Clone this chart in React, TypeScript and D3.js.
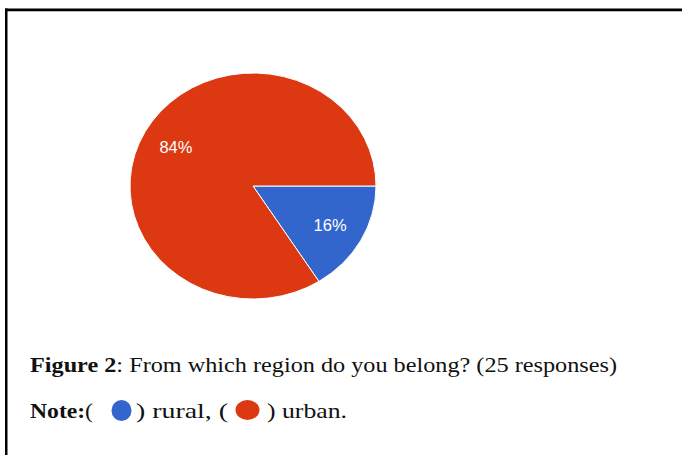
import React from "react";
import * as d3 from "d3";

const categories = ["rural", "urban"];
const values = [16, 84];
const labels = ["16%", "84%"];
const colors = ["#3366cc", "#dc3912"];
const caption = "From which region do you belong? (25 responses)";

export default function App() {
  const W = 682, H = 455;
  const cx = 253, cy = 186, rx = 123, ry = 113;
  const data = categories.map((c, i) => ({ c, v: values[i], label: labels[i], color: colors[i] }));
  const pie = d3.pie<any>().value((d) => d.v).sort(null).startAngle(Math.PI / 2).endAngle(Math.PI / 2 + 2 * Math.PI);
  const arcs = pie(data);
  const arc = d3.arc<any>().innerRadius(0).outerRadius(rx);
  const labelArc = d3.arc<any>().innerRadius(rx * 0.43).outerRadius(rx);
  const sy = ry / rx;
  const serif = "'Liberation Serif', 'Times New Roman', serif";
  const fs = 22;
  return (
    <svg width={W} height={H} style={{ position: "absolute", left: 0, top: 0, background: "#fff" }}>
      <rect x={0} y={0} width={W} height={H} fill="#fff" />
      <rect x={5} y={8.5} width={W - 5} height={2.5} fill="#000" />
      <rect x={5} y={11} width={W - 5} height={1} fill="#bbb" />
      <rect x={5} y={8.5} width={2.5} height={H - 8.5} fill="#000" />
      <g transform={`translate(${cx},${cy}) scale(1,${sy})`}>
        {arcs.map((a, i) => (
          <path key={i} d={arc(a) as string} fill={a.data.color} stroke="#fff" strokeWidth={1} vectorEffect="non-scaling-stroke" />
        ))}
      </g>
      {arcs.map((a, i) => {
        const [x, y] = labelArc.centroid(a);
        return (
          <text key={i} x={cx + x} y={cy + y * sy} dy="0.36em" textAnchor="middle" fill="#fff"
            fontFamily="'Liberation Sans', Arial, sans-serif" fontSize={16.5} textLength={33} lengthAdjust="spacingAndGlyphs">
            {a.data.label}
          </text>
        );
      })}
      <text x={30} y={372} fontFamily={serif} fontSize={fs} fill="#111" textLength={587} lengthAdjust="spacingAndGlyphs">
        <tspan fontWeight="bold">Figure 2</tspan>
        <tspan>: {caption}</tspan>
      </text>
      <text x={30} y={418} fontFamily={serif} fontSize={fs} fill="#111" textLength={63} lengthAdjust="spacingAndGlyphs">
        <tspan fontWeight="bold">Note:</tspan>
        <tspan>(</tspan>
      </text>
      <ellipse cx={121.5} cy={410.5} rx={10} ry={10.5} fill={colors[0]} />
      <text x={136} y={418} fontFamily={serif} fontSize={fs} fill="#111" textLength={92} lengthAdjust="spacingAndGlyphs">) rural, (</text>
      <ellipse cx={247.5} cy={410} rx={12} ry={10} fill={colors[1]} />
      <text x={267} y={418} fontFamily={serif} fontSize={fs} fill="#111" textLength={80} lengthAdjust="spacingAndGlyphs">) urban.</text>
    </svg>
  );
}
